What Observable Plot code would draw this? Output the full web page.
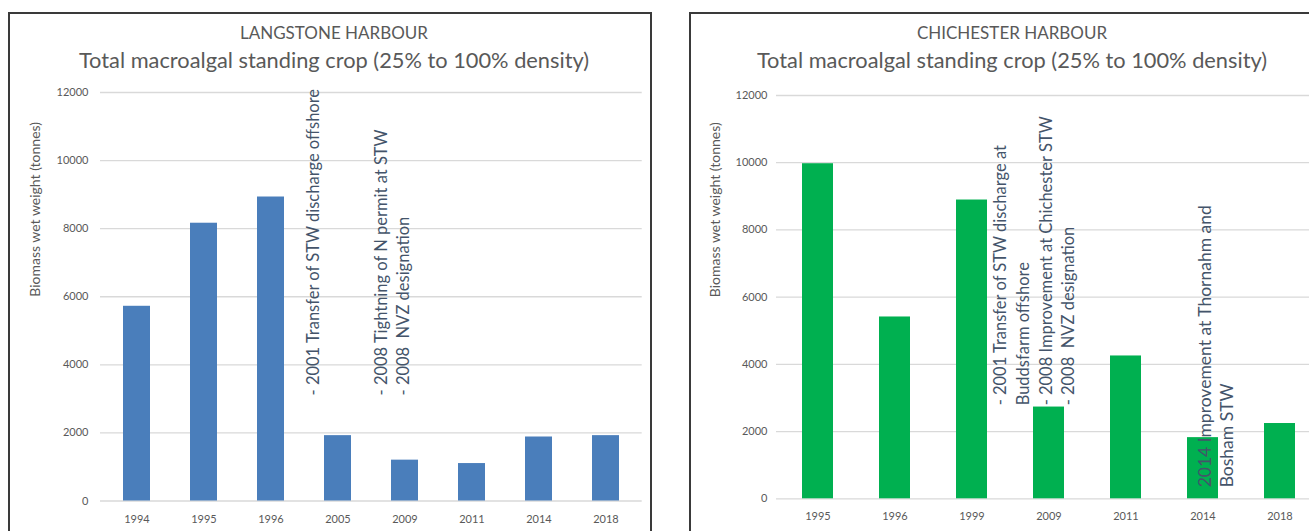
<!DOCTYPE html>
<html>
<head>
<meta charset="utf-8">
<script src="https://cdn.jsdelivr.net/npm/d3@7"></script>
<script src="https://cdn.jsdelivr.net/npm/@observablehq/plot@0.6"></script>
<style>
  html, body { margin: 0; padding: 0; background: #fff; }
  #page { position: relative; width: 1309px; height: 531px; overflow: hidden; font-family: Lato, "Open Sans", sans-serif; }
  .panel { position: absolute; top: 12px; height: 540px; border: 2px solid #3a3a3a; box-sizing: border-box; }
  .title { position: absolute; text-align: center; color: #595959; white-space: nowrap; }
  .t1 { top: 22px; font-size: 17px; line-height: 22px; }
  .t2 { top: 47px; font-size: 21.8px; line-height: 26px; }
  .chart { position: absolute; top: 70px; width: 640px; height: 461px; }
  .chart svg { max-width: none !important; }
</style>
</head>
<body>
<div id="page">
  <div class="panel" style="left:8px;width:644px;"></div>
  <div class="panel" style="left:689px;width:644px;"></div>
  <div class="title t1" style="left:0;width:668px;">LANGSTONE HARBOUR</div>
  <div class="title t2" style="left:0;width:668px;">Total macroalgal standing crop (25% to 100% density)</div>
  <div class="title t1" style="left:689px;width:646px;">CHICHESTER HARBOUR</div>
  <div class="title t2" style="left:689px;width:646px;">Total macroalgal standing crop (25% to 100% density)</div>
  <div class="chart" id="langstone" style="left:10px;"></div>
  <div class="chart" id="chichester" style="left:691px;"></div>
</div>
<script>
// Survey years and biomass (tonnes, wet weight) for each harbour
const langstoneYears = ["1994", "1995", "1996", "2005", "2009", "2011", "2014", "2018"];
const langstoneBiomass = [5720, 8160, 8930, 1920, 1200, 1100, 1880, 1920];

const chichesterYears = ["1995", "1996", "1999", "2009", "2011", "2014", "2018"];
const chichesterBiomass = [9970, 5410, 8890, 2730, 4250, 1820, 2240];

const yTicks = [0, 2000, 4000, 6000, 8000, 10000, 12000];
const yLabel = "Biomass wet weight (tonnes)";

// Management events written beside the bars
const langstoneTransfer = {year: "1996", biomass: 3100, text: "- 2001 Transfer of STW discharge offshore"};
const langstonePermit = {year: "2009", biomass: 3100, text: "- 2008 Tightning of N permit at STW\n- 2008\u00a0 NVZ designation"};
const chichesterEvents = {year: "2009", biomass: 2780, text: "- 2001 Transfer of STW discharge at\nBuddsfarm offshore\n- 2008 Improvement at Chichester STW\n- 2008\u00a0 NVZ designation"};
const chichesterUpgrade = {year: "2014", biomass: 340, text: "2014 Improvement at Thornahm and\nBosham STW"};

const langstone = langstoneYears.map((year, i) => ({year, biomass: langstoneBiomass[i]}));
const chichester = chichesterYears.map((year, i) => ({year, biomass: chichesterBiomass[i]}));

const noteColor = "#44546a";
const axisColor = "#595959";

function note(d, dx, fontSize, lineHeight) {
  return Plot.text([d], {
    x: "year", y: "biomass", text: "text", dx,
    rotate: -90, textAnchor: "start", lineAnchor: "middle",
    lineHeight, fontSize, fill: noteColor
  });
}

function harbourChart(data, years, color, m, notes) {
  return Plot.plot({
    width: 640,
    height: 461,
    marginTop: m.top,
    marginBottom: m.bottom,
    marginLeft: m.left,
    marginRight: m.right,
    style: {fontFamily: "Lato, 'Open Sans', sans-serif", background: "transparent", overflow: "visible", maxWidth: "none"},
    x: {domain: years, paddingInner: 0.6, paddingOuter: 0.3, label: null},
    y: {domain: [0, 12000], label: null},
    marks: [
      Plot.gridY(yTicks, {stroke: "#d9d9d9", strokeOpacity: 1, strokeWidth: 1.3}),
      Plot.barY(data, {x: "year", y: "biomass", fill: color}),
      Plot.axisY(yTicks, {tickSize: 0, tickPadding: m.yPad, fontSize: 11, fill: axisColor, tickFormat: d => String(d), label: null}),
      Plot.axisX({tickSize: 0, tickPadding: m.xPad, fontSize: 11, fill: axisColor, label: null}),
      Plot.text([yLabel], {frameAnchor: "left", rotate: -90, dx: m.labelDx, fontSize: 14, fill: axisColor}),
      ...notes
    ]
  });
}

document.getElementById("langstone").append(
  harbourChart(langstone, langstoneYears, "#4a7ebb",
    {top: 22, bottom: 30.5, left: 90, right: 8.3, yPad: 12, xPad: 14, labelDx: -65},
    [note(langstoneTransfer, 41, 16.5, 1.33), note(langstonePermit, -14, 16.5, 1.33)])
);

document.getElementById("chichester").append(
  harbourChart(chichester, chichesterYears, "#00b050",
    {top: 25, bottom: 32.7, left: 85, right: 10.3, yPad: 9, xPad: 13, labelDx: -61},
    [note(chichesterEvents, -16, 16.5, 1.37), note(chichesterUpgrade, 12, 17.5, 1.26)])
);
</script>
</body>
</html>
